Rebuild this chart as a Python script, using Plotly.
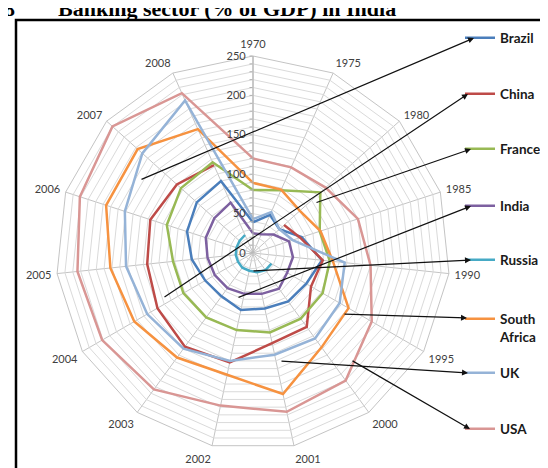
import plotly.graph_objects as go

years = ["1970", "1975", "1980", "1985", "1990", "1995", "2000", "2001",
         "2002", "2003", "2004", "2005", "2006", "2007", "2008"]

brazil = [39, 53, 45, 65, 88, 78, 76, 72, 74, 68, 70, 78, 88, 96, 100]
china = [None, None, 53, 63, 89, 85, 116, 117, 142, 147, 140, 135, 137, 130, 122]
france = [80, 87, 115, 89, 98, 102, 103, 103, 100, 101, 102, 102, 115, 123, 126]
india = [25, 26, 35, 48, 51, 50, 56, 53, 53, 55, 56, 58, 63, 66, 70]
russia = [None, None, None, None, None, 27, 27, 25, 23, 23, 22, 22, 22, 23, 25]
south_africa = [89, 88, 80, 90, 102, 140, 148, 183, 158, 164, 174, 182, 196, 197, 172]
uk = [43, 57, 45, 53, 117, 127, 134, 132, 140, 150, 155, 162, 171, 189, 212]
usa = [120, 119, 124, 140, 150, 174, 200, 206, 198, 214, 221, 224, 231, 240, 222]

series_names = ["Brazil", "China", "France", "India", "Russia",
                "South Africa", "UK", "USA"]
legend_labels = ["Brazil", "China", "France", "India", "Russia",
                 "South<br>Africa", "UK", "USA"]
series_values = [brazil, china, france, india, russia, south_africa, uk, usa]
series_colors = ["#4A7EBB", "#BE4B48", "#98B954", "#7D60A0", "#46AAC5",
                 "#F69240", "#95B3D7", "#D99694"]

radial_ticks = list(range(0, 251, 10))
radial_text = [str(v) if v % 50 == 0 else "" for v in radial_ticks]

# legend swatch centre (px) and arrow tail (px) for each series
legend_y_px = [30, 86, 141, 198, 252, 310, 365, 421]
arrow_head_x_px = [466, 460, 463, 463, 463, 459, 460, 462]
arrow_tail_px = [(132, 172), (155, 290), (307, 195), (229, 290), (244, 263),
                 (335, 306), (272, 353), (343, 352)]

W, H = 548, 468
CX, CY, R = 245, 245, 197
FONT = "Lato"

fig = go.Figure()
for i, (name, lab, vals, col) in enumerate(zip(series_names, legend_labels,
                                                series_values, series_colors)):
    lk = "legend" if i == 0 else f"legend{i+1}"
    fig.add_trace(go.Scatterpolar(
        r=vals + [vals[0]],
        theta=years + [years[0]],
        mode="lines",
        name=f"<b>{lab}</b>",
        line=dict(color=col, width=2.5),
        connectgaps=False,
        legend=lk,
        hoverinfo="skip",
    ))

layout_legends = {}
for i, ly in enumerate(legend_y_px):
    lk = "legend" if i == 0 else f"legend{i+1}"
    yc = ly + (10 if i == 5 else 0)
    layout_legends[lk] = dict(
        x=452 / W, y=1 - yc / H, xanchor="left", yanchor="middle",
        bgcolor="rgba(0,0,0,0)", borderwidth=0,
        font=dict(family=FONT, size=13.5, color="#1a1a1a"),
        itemwidth=30, valign="top", tracegroupgap=0,
    )

annotations = []
for i, ((tx, ty), hx, hy) in enumerate(zip(arrow_tail_px, arrow_head_x_px, legend_y_px)):
    annotations.append(dict(
        x=hx / W, y=1 - hy / H, xref="paper", yref="paper",
        ax=tx - hx, ay=ty - hy, axref="pixel", ayref="pixel",
        text="", showarrow=True, arrowhead=2, arrowsize=1, arrowwidth=1.2,
        arrowcolor="#111111", standoff=0, startstandoff=0,
    ))

annotations.append(dict(
    x=48 / W, y=1, xref="paper", yref="paper", xanchor="left", yanchor="middle",
    text="<b>Banking sector (% of GDP) in India</b>", showarrow=False,
    font=dict(family="Liberation Serif", size=22, color="black"),
))
annotations.append(dict(
    x=0, y=1, xref="paper", yref="paper", xanchor="left", yanchor="middle",
    xshift=-6,
    text="<b>8</b>", showarrow=False,
    font=dict(family="Liberation Serif", size=22, color="black"),
))

fig.update_layout(
    width=W, height=H,
    margin=dict(l=0, r=0, t=0, b=0),
    paper_bgcolor="white",
    showlegend=True,
    polar=dict(
        domain=dict(x=[(CX - R) / W, (CX + R) / W],
                    y=[1 - (CY + R) / H, 1 - (CY - R) / H]),
        bgcolor="white",
        gridshape="linear",
        angularaxis=dict(
            type="category", categoryarray=years,
            rotation=90, direction="clockwise",
            gridcolor="#c4c4c4", gridwidth=1,
            linecolor="#c4c4c4", linewidth=1, showline=True,
            ticks="outside", ticklen=3, tickcolor="rgba(0,0,0,0)",
            tickfont=dict(family=FONT, size=11, color="#404040"),
        ),
        radialaxis=dict(
            range=[0, 250], tickvals=radial_ticks, ticktext=radial_text,
            angle=90, side="counterclockwise", tickangle=90,
            gridcolor="#dadada", gridwidth=1,
            showline=True, linecolor="#b0b0b0", linewidth=1,
            ticks="outside", ticklen=3, tickcolor="#b0b0b0",
            tickfont=dict(family=FONT, size=11, color="#404040"),
        ),
    ),
    shapes=[dict(type="rect", xref="paper", yref="paper",
                 x0=8 / W, x1=1.1, y0=-0.1, y1=1 - 12 / H,
                 line=dict(color="black", width=2.5), layer="below")],
    annotations=annotations,
    **layout_legends,
)

fig.write_html("out.html")
